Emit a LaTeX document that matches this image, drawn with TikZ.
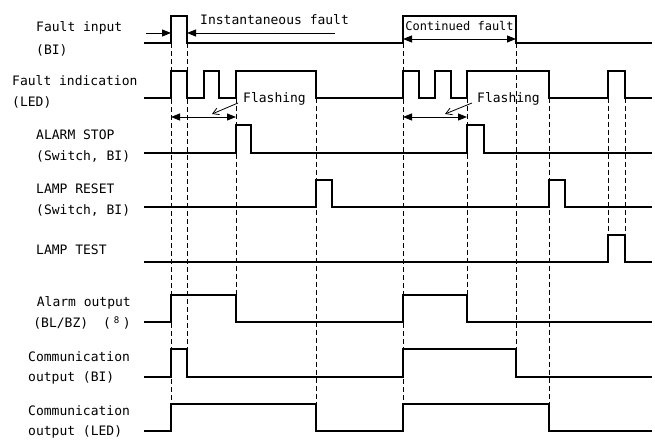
\documentclass[tikz,border=0pt]{standalone}
\usepackage{fontspec}
\setmonofont{DejaVu Sans Mono}
\usetikzlibrary{arrows.meta}

\begin{document}
\begin{tikzpicture}[x=1pt,y=-1pt,
		wave/.style={line width=1.7pt},
		thinwave/.style={line width=1.1pt},
		guide/.style={dash pattern=on 5pt off 3pt, line width=0.8pt},
		dim/.style={line width=0.9pt, {Triangle[length=9pt,width=7pt]}-{Triangle[length=9pt,width=7pt]}},
		pointer/.style={line width=0.8pt, -{Straight Barb[length=6pt,width=7pt]}},
		lbl/.style={font=\ttfamily\fontsize{13}{20.5}\selectfont, inner sep=0pt}]
				\useasboundingbox (0,0) rectangle (655,443);
				
				% signal names
				\node[lbl, anchor=west, align=left] (fin) at (36,38.7) {Fault input\\[2pt](BI)};
				\node[lbl, anchor=west, align=left] (find) at (12,91.7) {Fault indication\\(LED)};
				\node[lbl, anchor=west, align=left] (astop) at (36,146.3) {ALARM STOP\\(Switch, BI)};
				\node[lbl, anchor=west, align=left] (lreset) at (36,200.3) {LAMP RESET\\(Switch, BI)};
				\node[lbl, anchor=west] (ltest) at (36,250) {LAMP TEST};
				\node[lbl, anchor=east, align=right] (aout) at (131,313) {Alarm output\\(BL/BZ)\hspace{15pt}(\hspace{3pt}\textsuperscript{8}\hspace{3pt})};
				\node[lbl, anchor=west, align=left] (cbi) at (28,368) {Communication\\output (BI)};
				\node[lbl, anchor=west, align=left] (cled) at (28,422) {Communication\\output (LED)};
				
				% guide lines
				\foreach \t/\ya/\yb in {171/43/404, 187/43/349, 236/98/295, 316/98/404, 403/43/404,
					467/98/295, 516/43/349, 549/98/404, 608/98/235, 625/98/235}
					\draw[guide] (\t,\ya) -- (\t,\yb);
				
				% waveforms
				\draw[wave] (144,43) -- (171,43) -- (171,16) -- (187,16) -- (187,43) -- (403,43) -- (403,16) -- (516,16) -- (516,43) -- (652,43);
				\draw[wave] (144,98) -- (171,98) -- (171,71) -- (187,71) -- (187,98) -- (204,98) -- (204,71) -- (219,71) -- (219,98)
					-- (236,98) -- (236,71) -- (316,71) -- (316,98) -- (403,98) -- (403,71) -- (419,71) -- (419,98) -- (435,98)
					-- (435,71) -- (451,71) -- (451,98) -- (467,98) -- (467,71) -- (549,71) -- (549,98) -- (608,98) -- (608,71)
					-- (625,71) -- (625,98) -- (652,98);
				\draw[thinwave] (144,153) -- (236,153) -- (236,125) -- (251,125) -- (251,153) -- (467,153) -- (467,125) -- (484,125) -- (484,153) -- (652,153);
				\draw[thinwave] (144,207) -- (316,207) -- (316,180) -- (332,180) -- (332,207) -- (549,207) -- (549,180) -- (565,180) -- (565,207) -- (652,207);
				\draw[wave] (144,262) -- (608,262) -- (608,235) -- (625,235) -- (625,262) -- (652,262);
				\draw[wave] (144,322) -- (171,322) -- (171,295) -- (236,295) -- (236,322) -- (403,322) -- (403,295) -- (467,295) -- (467,322) -- (652,322);
				\draw[thinwave] (144,377) -- (171,377) -- (171,349) -- (187,349) -- (187,377) -- (403,377) -- (403,349) -- (516,349) -- (516,377) -- (652,377);
				\draw[wave] (144,431) -- (171,431) -- (171,404) -- (316,404) -- (316,431) -- (403,431) -- (403,404) -- (549,404) -- (549,431) -- (652,431);
				
				% fault durations
				\coordinate (ia) at (146,33);
				\coordinate (ib) at (171,33);
				\coordinate (ic) at (187,33);
				\coordinate (id) at (335,33);
				\draw[line width=0.9pt, -{Triangle[length=9pt,width=7pt]}] (ia) -- (ib);
				\draw[line width=0.9pt, -{Triangle[length=9pt,width=7pt]}] (id) -- (ic);
				\node[lbl, anchor=west] (inst) at (200,20) {Instantaneous fault};
				
				\coordinate (ca) at (403,39);
				\coordinate (cb) at (516,39);
				\draw[dim] (ca) -- (cb);
				\node[lbl, font=\ttfamily\fontsize{12}{14}\selectfont] (cont) at (459.5,26) {Continued fault};
				
				% flashing
				\coordinate (fa) at (171,117);
				\coordinate (fb) at (236,117);
				\draw[dim] (fa) -- (fb);
				\node[lbl, anchor=west] (flash1) at (243,98.5) {Flashing};
				\coordinate (p1) at (212,114);
				\draw[pointer] (238,103) -- (p1);
				
				\coordinate (fc) at (403,117);
				\coordinate (fd) at (467,117);
				\draw[dim] (fc) -- (fd);
				\node[lbl, anchor=west] (flash2) at (477,99.3) {Flashing};
				\coordinate (p2) at (445,114);
				\draw[pointer] (472,103) -- (p2);
			\end{tikzpicture}
\end{document}
